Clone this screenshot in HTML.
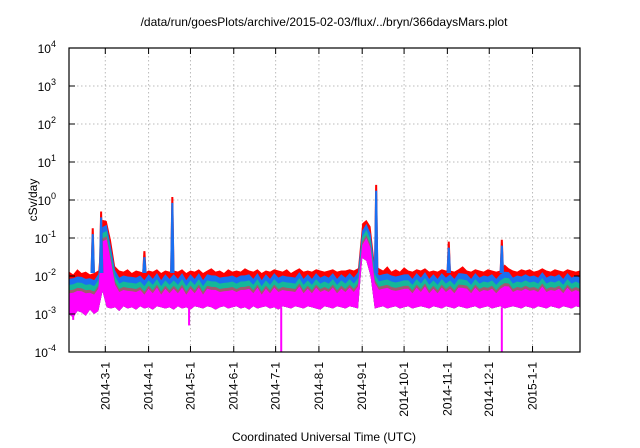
<!DOCTYPE html>
<html><head><meta charset="utf-8">
<style>
html,body{margin:0;padding:0;background:#fff;}
svg{display:block;font-family:"Liberation Sans",sans-serif;}
</style></head>
<body>
<svg id="chart" width="640" height="448" viewBox="0 0 640 448" xmlns="http://www.w3.org/2000/svg">
<text x="324" y="26" font-size="12" text-anchor="middle" fill="#000">/data/run/goesPlots/archive/2015-02-03/flux/../bryn/366daysMars.plot</text>
<text x="324" y="441" font-size="12" text-anchor="middle" fill="#000">Coordinated Universal Time (UTC)</text>
<text x="0" y="0" font-size="12" text-anchor="middle" fill="#000" transform="translate(37,200) rotate(-90)">cSv/day</text>
<g id="grid"></g>
<g id="series"></g>
<g id="axes"></g>
</svg>
<script>
// ---- data ----
const startDate = [2014, 1, 3]; // Feb 3 2014 (month 0-based)
const totalDays = 366;
const monthTicks = ["2014-3-1","2014-4-1","2014-5-1","2014-6-1","2014-7-1","2014-8-1","2014-9-1","2014-10-1","2014-11-1","2014-12-1","2015-1-1"];
const yTickExps = [-4,-3,-2,-1,0,1,2,3,4];
const baseStep = 3; // days between base samples
const redTop = [13,11,15,12,13,11,12,14,300,280,90,18,14,13,15,12,14,13,12,14,13,15,12,14,13,14,13,15,12,14,13,15,12,14,16,13,14,12,15,13,14,13,16,14,13,15,12,14,13,15,14,13,15,12,14,16,13,14,13,15,14,13,14,15,13,14,14,15,14,16,240,300,200,20,16,14,18,13,15,13,17,14,13,15,14,16,13,14,13,15,14,14,13,15,18,14,13,15,14,13,15,14,13,14,20,16,14,13,15,14,15,13,14,16,14,13,15,14,13,15,14,13,14]; // x 1e-3
const magBottom = [10,8,12,11,9,13,10,12,40,15,14,15,12,16,14,15,13,16,14,15,13,16,15,14,15,13,16,14,15,13,16,15,14,16,15,13,15,16,14,15,16,14,15,13,16,14,15,16,14,15,13,16,15,14,16,15,14,16,15,14,13,16,15,14,16,15,14,16,15,14,300,250,100,14,15,16,14,15,16,14,15,16,14,15,16,15,14,16,15,14,16,15,14,16,15,14,15,16,14,15,16,14,15,16,14,15,16,15,14,16,15,14,16,15,14,16,15,14,16,15,14,16,15]; // x 1e-4
const spikeDays = [17,23,54,74,220,272,310];
const spikeVals = [0.18,0.5,0.045,1.2,2.5,0.08,0.09];
const dipDays = [3,86,152,310];
const dipVals = [0.0007,0.0005,0.00005,0.00005];
const layerFractions = [1,0.72,0.5,0.36,0.3];
const layerColors = ["#ff0000","#1a6ff0","#14b89a","#a05a6e","#ff00ff"];

// ---- scales ----
const L=69,R=580,T=48,B=352;
const xs = d => L + d*(R-L)/totalDays;
const ys = v => T + (4 - Math.log10(v))*(B-T)/8;
const NS="http://www.w3.org/2000/svg";
function mk(tag, attrs, parent){const e=document.createElementNS(NS,tag);for(const k in attrs)e.setAttribute(k,attrs[k]);parent.appendChild(e);return e;}
const grid=document.getElementById('grid'), series=document.getElementById('series'), axes=document.getElementById('axes');
const t0 = Date.UTC(startDate[0],startDate[1],startDate[2]);
function dayOf(s){const p=s.split('-').map(Number);return (Date.UTC(p[0],p[1]-1,p[2])-t0)/86400000;}

yTickExps.forEach(e=>{
  const y=ys(Math.pow(10,e));
  if(e>-4&&e<4){const g=mk('line',{x1:L,x2:R,y1:y,y2:y,stroke:'#bbb','stroke-dasharray':'1.5,2.5','stroke-width':1},grid);
  }
  mk('line',{x1:L,x2:L+6,y1:y,y2:y,stroke:'#000'},axes);
  mk('line',{x1:R,x2:R-6,y1:y,y2:y,stroke:'#000'},axes);
  const t=mk('text',{x:56,y:y+5,'font-size':12,'text-anchor':'end'},axes);
  
  t.appendChild(document.createTextNode('10'));
  const s=mk('tspan',{dy:-6,'font-size':9},t);s.textContent=String(e);
});
monthTicks.forEach(lbl=>{
  const x=xs(dayOf(lbl));
  const g=mk('line',{x1:x,x2:x,y1:T,y2:B,stroke:'#bbb','stroke-dasharray':'1.5,2.5'},grid);
  
  mk('line',{x1:x,x2:x,y1:B,y2:B-6,stroke:'#000'},axes);
  mk('line',{x1:x,x2:x,y1:T,y2:T+6,stroke:'#000'},axes);
  const t=mk('text',{x:0,y:0,'font-size':12,'text-anchor':'end',transform:`translate(${x+4},362) rotate(-90)`},axes);
  
  t.textContent=lbl;
});

const n=redTop.length;
const botPts=[];for(let i=n-1;i>=0;i--)botPts.push(xs(Math.min(i*baseStep,totalDays))+','+ys(magBottom[i]*1e-4));
layerFractions.forEach((f,li)=>{
  const pts=[];
  for(let i=0;i<n;i++){const d=Math.min(i*baseStep,totalDays);const w=(i%2?1.1:0.9);pts.push(xs(d)+','+ys(redTop[i]*1e-3*f*(li?w:1)));}
  const p=mk('polygon',{points:pts.concat(botPts).join(' '),fill:layerColors[li]},series);
  
});
spikeDays.forEach((d,i)=>{
  const x=xs(d), base=ys(0.012);
  [1,0.7].forEach((f,k)=>{
    const p=mk('polygon',{points:`${x-2.2},${base} ${x-1},${ys(spikeVals[i]*f)} ${x+1},${ys(spikeVals[i]*f)} ${x+2.2},${base}`,fill:k?layerColors[1]:layerColors[0]},series);
    
  });
});
dipDays.forEach((d,i)=>{
  const x=xs(d);
  const p=mk('rect',{x:x-1,y:ys(0.0015),width:2,height:Math.min(ys(dipVals[i]),B)-ys(0.0015),fill:'#ff00ff'},series);
  
});
const fr=mk('rect',{x:L,y:T,width:R-L,height:B-T,fill:'none',stroke:'#000','stroke-width':1.2},axes);

</script>
</body></html>
